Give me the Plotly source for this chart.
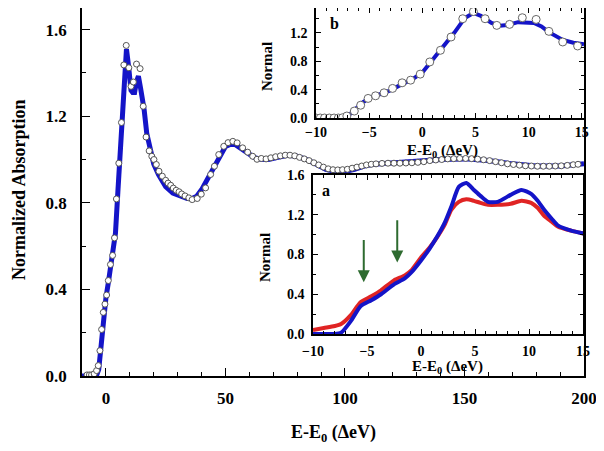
import plotly.graph_objects as go

# ---------------- data ----------------
# main panel: fit line
main_line_x = [-10, -6, -4, -3, -2, -1, 0, 1, 2, 3, 4, 5, 6, 7, 8, 8.6, 9.5, 10.5, 11.2, 12, 12.8, 13.6, 14.5,
               16, 17.1, 18.5, 20, 22, 25, 28, 31, 34, 36, 38, 40, 42, 44, 46, 48, 50, 52, 54, 56, 58, 60, 62,
               65, 68, 72, 76, 80, 84, 88, 92, 96, 100, 104, 108, 112, 120, 130, 140, 150, 160, 170, 180, 190, 200]
main_line_y = [0.0, 0.0, 0.0, 0.03, 0.15, 0.30, 0.36, 0.43, 0.51, 0.57, 0.66, 0.85, 1.05, 1.28, 1.45, 1.51, 1.43, 1.32, 1.31, 1.31, 1.36, 1.385, 1.33,
               1.23, 1.12, 1.05, 0.98, 0.93, 0.875, 0.845, 0.83, 0.82, 0.82, 0.83, 0.86, 0.90, 0.95, 0.99, 1.03, 1.06, 1.07, 1.07, 1.055, 1.04, 1.025, 1.01,
               1.0, 1.0, 1.01, 1.02, 1.015, 1.0, 0.978, 0.955, 0.945, 0.945, 0.955, 0.97, 0.978, 0.985, 0.99, 1.0, 1.003, 0.995, 0.98, 0.97, 0.97, 0.98]

# main panel: measured points (open circles)
main_pts_x = [-7.9, -6.9, -6.0, -4.9, -3.9, -3.2, -2.5, -1.8, -1.1, -0.4, 0.3, 1.0, 1.9, 2.8, 3.6, 4.4, 5.4, 6.5, 7.5, 8.5,
              9.6, 10.5, 11.5, 12.8, 14.3, 15.6, 16.8, 18.1, 19.2, 20.1, 21.1, 22.2, 23.6, 25.0, 26.0, 27.1, 28.2, 29.4,
              30.6, 31.7, 33.1, 34.7, 36.1, 38.2, 39.9, 41.7, 43.8, 45.4, 47.2, 49.3, 51.1, 53.1, 54.9, 57.2, 59.3, 61.4,
              63.2, 65, 67, 69, 71, 73, 75, 77, 79, 81, 83, 85, 87, 89, 91, 93, 95, 97, 99, 101, 103, 105, 107, 109, 111,
              113, 115.5, 118, 120.5, 123, 125.5, 128, 130.5, 133, 135.5, 138, 140.5, 143, 145.5, 148, 150.5, 153, 155.5,
              158, 160.5, 163, 165.5, 168, 170.5, 173, 175.5, 178, 180.5, 183, 185.5, 188, 190.5, 193, 195.5, 197.5]
main_pts_y = [0.005, 0.005, 0.005, 0.01, 0.025, 0.048, 0.117, 0.215, 0.294, 0.332, 0.374, 0.441, 0.515, 0.557, 0.638, 0.818, 0.983, 1.171, 1.437, 1.527,
              1.424, 1.338, 1.358, 1.441, 1.420, 1.246, 1.104, 1.040, 1.015, 1.000, 0.977, 0.946, 0.923, 0.904, 0.891, 0.881, 0.868, 0.858,
              0.851, 0.841, 0.832, 0.823, 0.815, 0.820, 0.840, 0.869, 0.931, 0.969, 1.023, 1.061, 1.078, 1.084, 1.077, 1.054, 1.034, 1.015,
              1.001, 1.005, 1.003, 1.008, 1.013, 1.017, 1.020, 1.020, 1.017, 1.010, 1.003, 0.995, 0.985, 0.975, 0.965, 0.957, 0.953, 0.952, 0.953, 0.955, 0.960, 0.965, 0.970, 0.975, 0.978,
              0.980, 0.982, 0.983, 0.983, 0.983, 0.984, 0.985, 0.987, 0.990, 0.995, 0.998, 1.000, 1.003, 1.004, 1.005, 1.005, 1.004, 1.002,
              0.999, 0.995, 0.990, 0.985, 0.980, 0.977, 0.974, 0.971, 0.970, 0.969, 0.969, 0.969, 0.970, 0.971, 0.973, 0.976, 0.978]

# inset b
b_line_x = [-10, -7.3, -6.5, -5.8, -5, -4, -3, -2, -1, 0, 1, 2, 3, 4, 4.8, 5.5, 6.5, 7.3, 8, 9, 9.8, 10.5, 11.2, 11.9, 13.2, 14.2, 15.2]
b_line_y = [0.0, 0.0, 0.09, 0.2, 0.28, 0.33, 0.39, 0.47, 0.54, 0.64, 0.82, 1.0, 1.2, 1.41, 1.48, 1.44, 1.34, 1.30, 1.31, 1.35, 1.35, 1.34, 1.29, 1.21, 1.10, 1.06, 1.04]
b_pts_x = [-10.0, -9.6, -9.2, -8.75, -8.3, -7.9, -7.5, -7.1, -6.4, -5.8, -5.1, -4.4, -3.6, -2.8, -1.9, -1.1, -0.2, 0.7, 1.7,
           2.7, 3.8, 4.8, 5.9, 7.0, 8.2, 9.4, 10.7, 11.9, 13.2, 14.6]
b_pts_y = [0.0, 0.0, 0.0, 0.0, 0.0, 0.0, 0.004, 0.028, 0.098, 0.18, 0.276, 0.313, 0.355, 0.417, 0.496, 0.533, 0.618, 0.79, 0.954,
           1.141, 1.399, 1.50, 1.399, 1.305, 1.319, 1.413, 1.389, 1.221, 1.071, 1.015]

# inset a
a_x = [-10, -9, -8, -7.4, -6.5, -5.6, -4.6, -3.7, -2.5, -1.5, -0.9, 0, 0.8, 1.5, 2.2, 2.8, 3.5, 4.2, 4.9, 5.5, 6.2, 7.1,
       8.3, 9.3, 10.2, 10.8, 11.4, 12.1, 12.7, 13.9, 15.1]
a_blue_y = [0.0, 0.0, 0.0, 0.013, 0.13, 0.28, 0.34, 0.40, 0.50, 0.56, 0.62, 0.74, 0.86, 0.98, 1.12, 1.28, 1.48, 1.52, 1.45, 1.39, 1.33, 1.33,
            1.40, 1.45, 1.41, 1.34, 1.25, 1.16, 1.09, 1.04, 1.01]
a_red_y = [0.04, 0.06, 0.08, 0.10, 0.19, 0.32, 0.38, 0.44, 0.54, 0.59, 0.64, 0.77, 0.87, 0.975, 1.10, 1.25, 1.33, 1.355, 1.34, 1.32, 1.30, 1.30,
           1.31, 1.34, 1.32, 1.27, 1.19, 1.13, 1.08, 1.04, 1.01]
arrow_x = [-5.3, -2.2]
arrow_top = [0.96, 1.16]
arrow_tip = [0.52, 0.72]

# ---------------- figure ----------------
BLUE = "#1414C8"
RED = "#E02424"
GREEN = "#2E6B30"
FONT = "Liberation Serif, Times New Roman, serif"

fig = go.Figure()
fig.add_trace(go.Scatter(x=main_line_x, y=main_line_y, mode="lines",
                         line=dict(color=BLUE, width=5), xaxis="x", yaxis="y"))
fig.add_trace(go.Scatter(x=main_pts_x, y=main_pts_y, mode="markers",
                         marker=dict(symbol="circle", size=6, color="white",
                                     line=dict(color="#555555", width=1)), xaxis="x", yaxis="y"))
fig.add_trace(go.Scatter(x=b_line_x, y=b_line_y, mode="lines",
                         line=dict(color=BLUE, width=4), xaxis="x2", yaxis="y2"))
fig.add_trace(go.Scatter(x=b_pts_x, y=b_pts_y, mode="markers",
                         marker=dict(symbol="circle", size=8, color="white",
                                     line=dict(color="#666666", width=1)), xaxis="x2", yaxis="y2"))
fig.add_trace(go.Scatter(x=a_x, y=a_red_y, mode="lines", line=dict(color=RED, width=4, shape="spline", smoothing=0.6),
                         xaxis="x3", yaxis="y3"))
fig.add_trace(go.Scatter(x=a_x, y=a_blue_y, mode="lines", line=dict(color=BLUE, width=4, shape="spline", smoothing=0.6),
                         xaxis="x3", yaxis="y3"))

# the page body has an 8px margin: figure is drawn at (8, 8) in the window
OFF = 8
W, H = 604 - OFF, 451 - OFF
def px(v):
    return (v - OFF) / W
def py(v):
    return 1 - (v - OFF) / H

tickfont_main = dict(family=FONT, size=17, color="black", weight="bold")
tickfont_in = dict(family=FONT, size=14, color="black", weight="bold")

common = dict(showgrid=False, zeroline=False, showline=True, linecolor="black", linewidth=1.5,
              ticks="inside", tickcolor="black", tickwidth=1.2, automargin=False)

fig.update_layout(
    width=W, height=H, margin=dict(l=0, r=0, t=0, b=0, autoexpand=False),
    paper_bgcolor="white", plot_bgcolor="white", showlegend=False,
    font=dict(family=FONT),
    xaxis=dict(domain=[px(82), px(584)], anchor="y", range=[-10, 200], tick0=0, dtick=50,
               ticklen=8, minor=dict(dtick=10, ticks="inside", ticklen=4, tickcolor="black"),
               tickfont=tickfont_main, mirror=True, ticklabelstandoff=6, **common),
    yaxis=dict(domain=[py(376), py(8)], anchor="x", range=[0, 1.7], tick0=0, dtick=0.4, tickformat=".1f",
               ticklen=8, minor=dict(dtick=0.2, ticks="inside", ticklen=4, tickcolor="black"),
               tickfont=tickfont_main, mirror=True, ticklabelstandoff=10, **common),
    xaxis2=dict(domain=[px(316), px(584)], anchor="y2", range=[-10, 15.2], tick0=0, dtick=5,
                ticklen=5, minor=dict(dtick=1, ticks="inside", ticklen=3, tickcolor="black"),
                tickfont=tickfont_in, mirror="allticks", ticklabelstandoff=0, **common),
    yaxis2=dict(domain=[py(118), py(8)], anchor="x2", range=[0, 1.55], tick0=0, dtick=0.4, tickformat=".1f",
                ticklen=5, minor=dict(dtick=0.2, ticks="inside", ticklen=3, tickcolor="black"),
                tickfont=tickfont_in, mirror="allticks", ticklabelstandoff=4, **common),
    xaxis3=dict(domain=[px(313), px(583)], anchor="y3", range=[-10, 15], tick0=0, dtick=5,
                ticklen=5, minor=dict(dtick=1, ticks="inside", ticklen=3, tickcolor="black"),
                tickfont=tickfont_in, mirror="allticks", ticklabelstandoff=3, **common),
    yaxis3=dict(domain=[py(334), py(175)], anchor="x3", range=[0, 1.6], tick0=0, dtick=0.4, tickformat=".1f",
                ticklen=5, minor=dict(dtick=0.2, ticks="inside", ticklen=3, tickcolor="black"),
                tickfont=tickfont_in, mirror="allticks", ticklabelstandoff=4, **common),
)

def label(text, x, y, size, angle=0):
    return dict(text=text, x=px(x), y=py(y), xref="paper", yref="paper", xanchor="center", yanchor="middle",
                textangle=angle, showarrow=False, font=dict(family=FONT, size=size, weight="bold", color="black"))

ann = [
    label("Normalized Absorption", 19, 190, 18, -90),
    label("E-E<sub>0</sub> (ΔeV)", 333, 433, 18),
    label("E-E<sub>0</sub> (ΔeV)", 442, 151, 15),
    label("E-E<sub>0</sub> (ΔeV)", 447, 367, 15),
    label("Normal", 267, 67, 15, -90),
    label("Normal", 265, 258, 15, -90),
    label("b", 334, 23, 16),
    label("a", 326, 190, 16),
]
# arrows
for xa, yt, yb in zip(arrow_x, arrow_top, arrow_tip):
    ann.append(dict(x=xa, y=yb, ax=xa, ay=yt, xref="x3", yref="y3", axref="x3", ayref="y3",
                    showarrow=True, arrowhead=2, arrowsize=1.2, arrowwidth=2, arrowcolor=GREEN, text=""))
fig.update_layout(annotations=ann)

fig.write_html("out.html")
